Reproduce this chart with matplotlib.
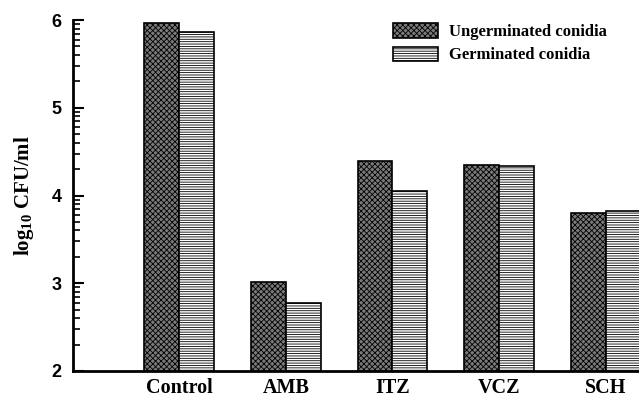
import numpy as np
import matplotlib
matplotlib.use('Agg')
import matplotlib.pyplot as plt

# log10 CFU/ml per drug treatment
drugs = ['Control', 'AMB', 'ITZ', 'VCZ', 'SCH']
ungerminated = [5.97, 3.01, 4.39, 4.35, 3.80]
germinated = [5.86, 2.78, 4.05, 4.34, 3.82]

plt.rcParams['mathtext.fontset'] = 'custom'
plt.rcParams['mathtext.rm'] = 'Liberation Serif:bold'
plt.rcParams['mathtext.it'] = 'Liberation Serif:bold'
plt.rcParams['hatch.linewidth'] = 0.6

fig = plt.figure(figsize=(6.39, 3.97), dpi=100)
ax = fig.add_axes([0.114, 0.0655, 0.886, 0.884])

x = np.arange(len(drugs))
w = 0.327
ax.bar(x - w/2, ungerminated, w, bottom=0, facecolor='#7a7a7a', edgecolor='black',
       hatch='xxxxxx', linewidth=1.2, label='Ungerminated conidia')
ax.bar(x + w/2, germinated, w, bottom=0, facecolor='white', edgecolor='black',
       hatch='-------', linewidth=1.2, label='Germinated conidia')

ax.set_ylim(2, 6.0)
ax.set_xlim(-0.995, 4.31)

# log-style minor ticks inside each decade
minor = [np.log10(k) + d for d in range(2, 6) for k in range(2, 10)]
ax.set_yticks([2, 3, 4, 5, 6])
ax.set_yticks(minor, minor=True)
ax.tick_params(axis='y', which='major', direction='in', length=8, width=1.5,
               labelsize=13, pad=8)
ax.tick_params(axis='y', which='minor', direction='in', length=5, width=1.2)
for t in ax.get_yticklabels():
    t.set_fontfamily('Liberation Sans')
    t.set_fontweight('bold')

ax.set_xticks(x)
ax.set_xticklabels(drugs, fontfamily='Liberation Serif', fontweight='bold', fontsize=14.5)
ax.tick_params(axis='x', length=0, pad=5)

ax.set_ylabel('log$_{10}$ CFU/ml', fontfamily='Liberation Serif', fontweight='bold',
              fontsize=15, labelpad=11)

for s in ['top', 'right']:
    ax.spines[s].set_visible(False)
ax.spines['left'].set_linewidth(2)
ax.spines['bottom'].set_linewidth(2)

ax.legend(loc='upper left', bbox_to_anchor=(0.556, 1.005), frameon=False,
          prop={'family': 'Liberation Serif', 'weight': 'bold', 'size': 12},
          handlelength=2.7, handleheight=0.95, labelspacing=0.38, handletextpad=0.7,
          borderaxespad=0, borderpad=0.3)

plt.savefig('out.png', dpi=100)
